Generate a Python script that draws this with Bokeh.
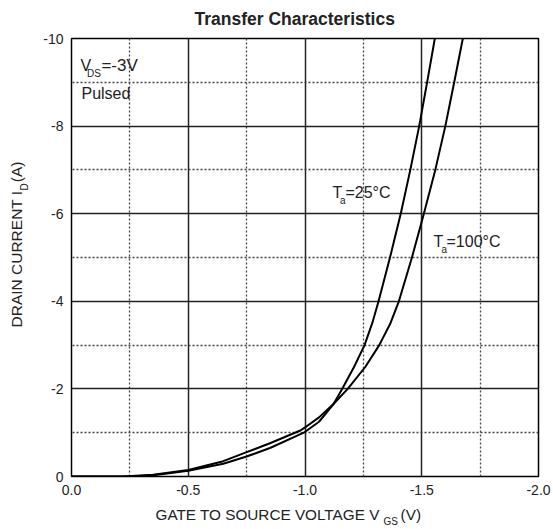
import math
from bokeh.plotting import figure
from bokeh.models import Range1d, FixedTicker, Label
from bokeh.embed import file_html
from bokeh.resources import INLINE

# ---- data ----
vgs_25 = [0, -0.25, -0.35, -0.5, -0.65, -0.75, -0.85, -0.995, -1.06, -1.123,
          -1.159, -1.21, -1.255, -1.288, -1.315, -1.364, -1.41, -1.451, -1.489, -1.523, -1.556]
id_25 = [0, 0, -0.03, -0.13, -0.29, -0.457, -0.65, -1.0, -1.25, -1.66,
         -2.0, -2.5, -3, -3.5, -4, -5, -6, -7, -8, -9, -10]

vgs_100 = [0, -0.22, -0.35, -0.5, -0.65, -0.75, -0.85, -0.98, -1.0, -1.06, -1.123,
           -1.183, -1.258, -1.318, -1.366, -1.402, -1.458, -1.509, -1.558, -1.601, -1.639, -1.676]
id_100 = [0, 0, -0.04, -0.15, -0.35, -0.555, -0.76, -1.05, -1.12, -1.35, -1.66,
          -2.0, -2.5, -3, -3.5, -4, -5, -6, -7, -8, -9, -10]

x_major = [0, -0.5, -1.0, -1.5, -2.0]
x_minor = [-0.25, -0.75, -1.25, -1.75]
y_major = [0, -2, -4, -6, -8, -10]
y_minor = [-1, -3, -5, -7, -9]
x_tick_labels = {0: "0.0", -0.5: "-0.5", -1.0: "-1.0", -1.5: "-1.5", -2.0: "-2.0"}
y_tick_labels = {0: "0", -2: "-2", -4: "-4", -6: "-6", -8: "-8", -10: "-10"}

FONT = "Liberation Sans"
TXT = "#222222"
NB = "\u00a0"

p = figure(width=553, height=529, output_backend="svg", toolbar_location=None,
           x_range=Range1d(0, -2), y_range=Range1d(0, -10),
           min_border_left=71, min_border_right=15, min_border_top=38, min_border_bottom=53)
p.title.text = "Transfer Characteristics"
p.title.align = "left"
p.title.offset = 123
p.title.vertical_align = "top"
p.title.standoff = 16
p.title.text_font = FONT
p.title.text_font_size = "17.5px"
p.title.text_font_style = "bold"
p.title.text_color = TXT
p.outline_line_color = "black"
p.outline_line_width = 1.5

for ax, ticks, minor, labels in ((p.xaxis[0], x_major, x_minor, x_tick_labels),
                                 (p.yaxis[0], y_major, y_minor, y_tick_labels)):
    ax.ticker = FixedTicker(ticks=ticks, minor_ticks=minor)
    ax.major_label_overrides = labels
    ax.axis_line_color = None
    ax.major_tick_line_color = None
    ax.minor_tick_line_color = None
    ax.major_tick_out = 0
    ax.major_tick_in = 0
    ax.minor_tick_out = 0
    ax.minor_tick_in = 0
    ax.major_label_text_font = FONT
    ax.major_label_text_font_size = "14px"
    ax.major_label_text_color = TXT
    ax.major_label_standoff = 8

for g in (p.xgrid[0], p.ygrid[0]):
    g.grid_line_color = "#222222"
    g.grid_line_width = 1.5
    g.minor_grid_line_color = "#444444"
    g.minor_grid_line_width = 1.3
    g.minor_grid_line_dash = "2 2"

p.line(vgs_25, id_25, line_color="black", line_width=2)
p.line(vgs_100, id_100, line_color="black", line_width=2)

def mk(x, y, t, size, units="data", angle=0.0):
    return Label(x=x, y=y, text=t, text_font=FONT, text_font_size=size,
                 text_color=TXT, text_align="left", text_baseline="middle",
                 angle=angle, x_units=units, y_units=units)

# annotations inside the plot (data units)
for lb in (mk(-0.0385, -9.384, "V", "16px"),
           mk(-0.066, -9.20, "DS", "10px"),
           mk(-0.128, -9.384, "=-3V", "17px"),
           mk(-0.0428, -8.733, "Pulsed", "16px"),
           mk(-1.118, -6.484, "T", "16px"),
           mk(-1.150, -6.30, "a", "10px"),
           mk(-1.173, -6.484, "=25\u00b0C", "16px"),
           mk(-1.550, -5.365, "T", "16px"),
           mk(-1.585, -5.18, "a", "10px"),
           mk(-1.606, -5.365, "=100\u00b0C", "16px")):
    p.add_layout(lb)

# axis titles, placed in the side panels so that they are not clipped
p.add_layout(mk(84, 0, "GATE TO SOURCE VOLTAGE V" + NB * 5 + "(V)", "15.3px", units="screen"), "below")
p.add_layout(mk(312, 4, "GS", "10px", units="screen"), "below")

ang = math.pi / 2
p.add_layout(mk(-7, 149, "DRAIN CURRENT I" + NB * 2 + "(A)", "15.5px", units="screen", angle=ang), "left")
p.add_layout(mk(12, 286, "D", "10px", units="screen", angle=ang), "left")

open("out.html", "w").write(file_html(p, INLINE))
